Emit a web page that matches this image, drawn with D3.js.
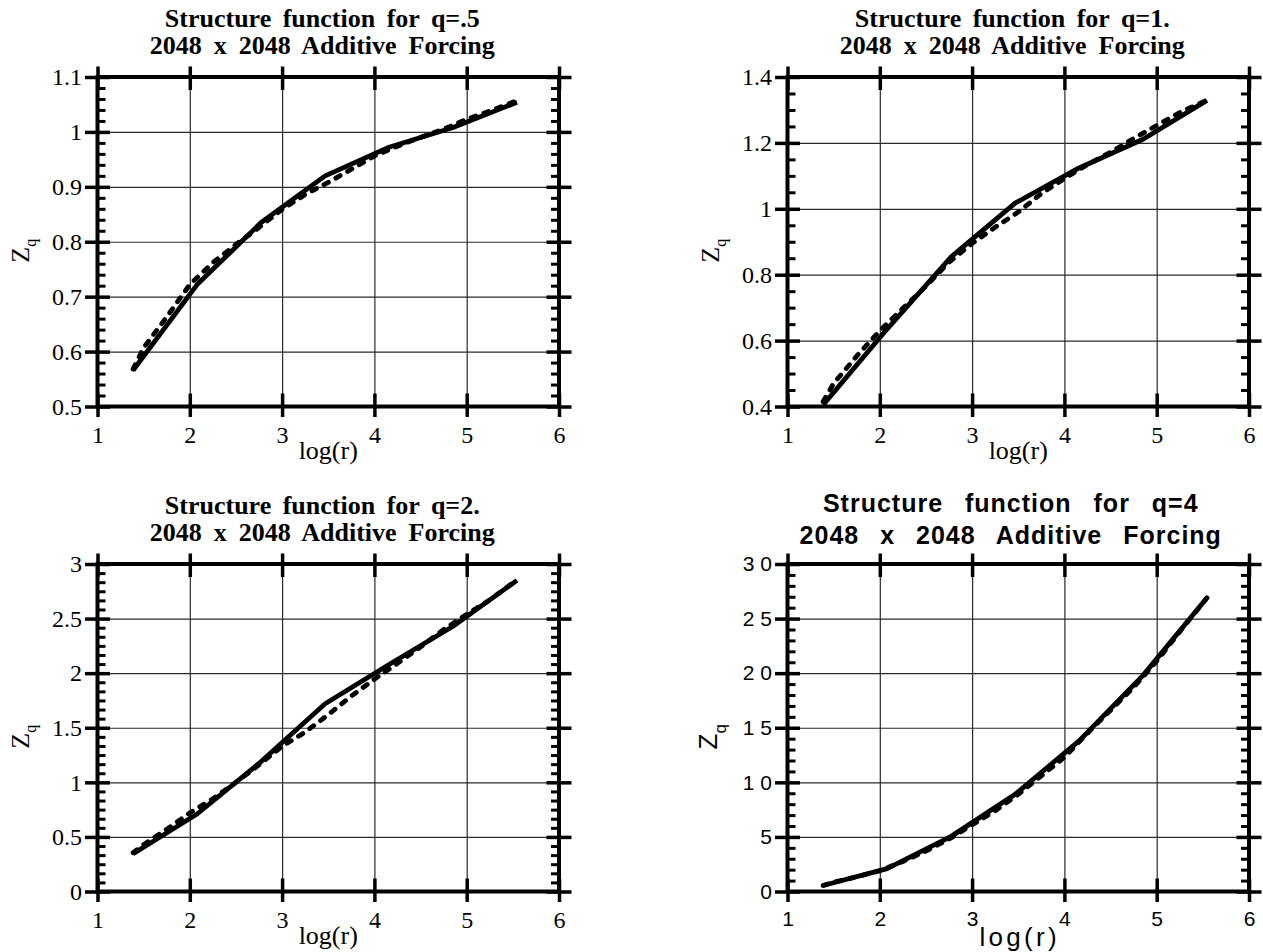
<!DOCTYPE html>
<html><head><meta charset="utf-8">
<script src="https://cdn.jsdelivr.net/npm/d3@7"></script>
<style>body{margin:0;background:#fff} svg{display:block}</style>
</head><body><svg id="c" width="1263" height="952"></svg>
<script>
// ---------------- data ----------------
const xTickValues = [1, 2, 3, 4, 5, 6];
const xTickLabels = ["1", "2", "3", "4", "5", "6"];
// log(r) for r = 4, 8, 16, ..., 256 (solid curve points)
const logRCoarse = [1.386, 2.079, 2.773, 3.466, 4.159, 4.852, 5.545];
// dashed curve sample points
const logRFine = [1.386, 1.5, 1.75, 2.0, 2.25, 2.5, 2.75, 3.0, 3.25, 3.5, 3.75, 4.0, 4.25, 4.5, 4.75, 5.0, 5.25, 5.545];

const zSolidQ05 = [0.566, 0.722, 0.835, 0.920, 0.972, 1.008, 1.054];
const zDashQ05  = [0.568, 0.607, 0.663, 0.722, 0.762, 0.795, 0.826, 0.859, 0.886, 0.908, 0.932, 0.956, 0.974, 0.990, 1.005, 1.023, 1.038, 1.057];

const zSolidQ1 = [0.405, 0.635, 0.854, 1.017, 1.124, 1.211, 1.329];
const zDashQ1  = [0.415, 0.470, 0.553, 0.630, 0.698, 0.765, 0.838, 0.895, 0.944, 0.990, 1.046, 1.092, 1.134, 1.172, 1.213, 1.253, 1.292, 1.330];

const zSolidQ2 = [0.346, 0.710, 1.190, 1.720, 2.080, 2.430, 2.850];
const zDashQ2  = [0.355, 0.430, 0.570, 0.720, 0.850, 1.000, 1.160, 1.330, 1.460, 1.620, 1.790, 1.945, 2.090, 2.240, 2.400, 2.540, 2.670, 2.856];

const zSolidQ4 = [0.55, 2.10, 5.05, 8.90, 13.80, 19.80, 26.90];
const zDashQ4  = [0.55, 0.85, 1.35, 1.90, 2.75, 3.70, 4.80, 6.10, 7.40, 8.90, 10.60, 12.30, 14.50, 16.60, 18.70, 21.10, 23.80, 26.90];

const yTicksQ05 = [0.5, 0.6, 0.7, 0.8, 0.9, 1.0, 1.1];
const yLabelsQ05 = ["0.5", "0.6", "0.7", "0.8", "0.9", "1", "1.1"];
const yTicksQ1 = [0.4, 0.6, 0.8, 1.0, 1.2, 1.4];
const yLabelsQ1 = ["0.4", "0.6", "0.8", "1", "1.2", "1.4"];
const yTicksQ2 = [0, 0.5, 1, 1.5, 2, 2.5, 3];
const yLabelsQ2 = ["0", "0.5", "1", "1.5", "2", "2.5", "3"];
const yTicksQ4 = [0, 5, 10, 15, 20, 25, 30];
const yLabelsQ4 = ["0", "5", "10", "15", "20", "25", "30"];
const minorIntervals = [5, 4, 6, 5];

const titleLine1 = ["Structure function for q=.5", "Structure function for q=1.", "Structure function for q=2.", "Structure function for q=4"];
const titleLine2 = "2048 x 2048 Additive Forcing";
const xAxisTitle = "log(r)";
const yAxisTitle = ["Z", "q"];

// ---------------- layout ----------------
const serifFont = "'Liberation Serif','Times New Roman',Times,serif";
const sansFont = "'Liberation Sans',Arial,Helvetica,sans-serif";
const layout = [
  {x0: 97.5, x1: 559, y0: 77, y1: 406.5, sans: false},
  {x0: 787.5, x1: 1249, y0: 77, y1: 406.5, sans: false},
  {x0: 97.5, x1: 559, y0: 564, y1: 891.5, sans: false},
  {x0: 787.5, x1: 1249, y0: 564, y1: 891.5, sans: true}
];
const panels = [
  {solid: zSolidQ05, dash: zDashQ05, ticks: yTicksQ05, labels: yLabelsQ05},
  {solid: zSolidQ1, dash: zDashQ1, ticks: yTicksQ1, labels: yLabelsQ1},
  {solid: zSolidQ2, dash: zDashQ2, ticks: yTicksQ2, labels: yLabelsQ2},
  {solid: zSolidQ4, dash: zDashQ4, ticks: yTicksQ4, labels: yLabelsQ4}
];

const svg = d3.select('#c');

function tickAxis(g, gen, tx, ty, values, size, sw, fmt, pad) {
  const a = g.append('g').attr('transform', `translate(${tx},${ty})`)
    .call(gen.tickValues(values).tickSize(size).tickPadding(pad == null ? 3 : pad).tickFormat(fmt || (() => '')));
  a.select('.domain').remove();
  a.selectAll('line').attr('stroke', '#000').attr('stroke-width', sw);
  a.attr('font-family', null).attr('font-size', null);
  return a;
}

panels.forEach((p, i) => {
  const L = layout[i];
  const ff = L.sans ? sansFont : serifFont;
  const x = d3.scaleLinear().domain([xTickValues[0], xTickValues[xTickValues.length - 1]]).range([L.x0, L.x1]);
  const y = d3.scaleLinear().domain([p.ticks[0], p.ticks[p.ticks.length - 1]]).range([L.y1, L.y0]);
  const g = svg.append('g').attr('font-family', ff).attr('fill', '#000');
  const W = L.x1 - L.x0, H = L.y1 - L.y0;

  // grid
  const gx = g.append('g').attr('transform', `translate(0,${L.y1})`)
    .call(d3.axisBottom(x).tickValues(xTickValues.slice(1, -1)).tickSize(-H).tickFormat(''));
  gx.select('.domain').remove();
  gx.selectAll('line').attr('stroke', '#2a2a2a').attr('stroke-width', 1.2);
  const gy = g.append('g').attr('transform', `translate(${L.x0},0)`)
    .call(d3.axisLeft(y).tickValues(p.ticks.slice(1, -1)).tickSize(-W).tickFormat(''));
  gy.select('.domain').remove();
  gy.selectAll('line').attr('stroke', '#2a2a2a').attr('stroke-width', 1.2);

  // data
  const line = d3.line().x(d => x(d[0])).y(d => y(d[1]));
  g.append('path').datum(d3.zip(logRFine, p.dash)).attr('d', line)
    .attr('fill', 'none').attr('stroke', '#000').attr('stroke-width', 4.8)
    .attr('stroke-dasharray', '5,8.5').attr('stroke-linecap', 'round').attr('stroke-linejoin', 'round');
  g.append('path').datum(d3.zip(logRCoarse, p.solid)).attr('d', line)
    .attr('fill', 'none').attr('stroke', '#000').attr('stroke-width', 4.8)
    .attr('stroke-linejoin', 'round').attr('stroke-linecap', 'butt');

  // frame
  g.append('rect').attr('x', L.x0).attr('y', L.y0).attr('width', W).attr('height', H)
    .attr('fill', 'none').attr('stroke', '#000').attr('stroke-width', 4);

  // minor ticks
  const minor = [];
  const n = minorIntervals[i];
  for (let k = 0; k < p.ticks.length - 1; k++) {
    const a = p.ticks[k], b = p.ticks[k + 1];
    for (let j = 1; j < n; j++) minor.push(a + j * (b - a) / n);
  }
  tickAxis(g, d3.axisRight(y), L.x0, 0, minor, 8, 3);
  tickAxis(g, d3.axisLeft(y), L.x1, 0, minor, 8, 3);

  // y major ticks (crossing) + labels
  const yl = tickAxis(g, d3.axisLeft(y), L.x0, 0, p.ticks, 12.5, 3.5, (d, k) => p.labels[k], 3);
  tickAxis(g, d3.axisRight(y), L.x0, 0, p.ticks, 12.5, 3.5);
  tickAxis(g, d3.axisLeft(y), L.x1, 0, p.ticks, 12.5, 3.5);
  tickAxis(g, d3.axisRight(y), L.x1, 0, p.ticks, 12.5, 3.5);
  yl.selectAll('text').attr('fill', '#000').attr('font-size', L.sans ? 21 : 24);
  if (L.sans) yl.selectAll('text').style('letter-spacing', '6px').attr('dx', 6);

  // x major ticks (crossing) + labels
  const xl = tickAxis(g, d3.axisBottom(x), 0, L.y1, xTickValues, 10.5, 3.5, (d, k) => xTickLabels[k], L.sans ? 9.5 : 8.5);
  tickAxis(g, d3.axisTop(x), 0, L.y1, xTickValues, 13, 3.5);
  tickAxis(g, d3.axisTop(x), 0, L.y0, xTickValues, 10.5, 3.5);
  tickAxis(g, d3.axisBottom(x), 0, L.y0, xTickValues, 13, 3.5);
  xl.selectAll('text').attr('fill', '#000').attr('font-size', L.sans ? 21 : 24);

  // titles
  const cx = (L.x0 + L.x1) / 2;
  if (L.sans) {
    g.append('text').attr('x', cx - 7.5).attr('y', L.y0 - 52).attr('text-anchor', 'middle')
      .attr('font-weight', 'bold').attr('font-size', 25).style('word-spacing', '14px').style('letter-spacing', '1px')
      .text(titleLine1[i]);
    g.append('text').attr('x', cx - 7.5).attr('y', L.y0 - 20).attr('text-anchor', 'middle')
      .attr('font-weight', 'bold').attr('font-size', 25).style('word-spacing', '13px').style('letter-spacing', '1px')
      .text(titleLine2);
    g.append('text').attr('x', cx + 1.5).attr('y', L.y1 + 54).attr('text-anchor', 'middle')
      .attr('font-size', 26).style('letter-spacing', '3.3px').text(xAxisTitle);
  } else {
    g.append('text').attr('x', cx - 6).attr('y', L.y0 - 50).attr('text-anchor', 'middle')
      .attr('font-weight', 'bold').attr('font-size', 26).style('word-spacing', '5px')
      .text(titleLine1[i]);
    g.append('text').attr('x', cx - 6).attr('y', L.y0 - 23).attr('text-anchor', 'middle')
      .attr('font-weight', 'bold').attr('font-size', 26).style('word-spacing', '5.5px')
      .text(titleLine2);
    g.append('text').attr('x', cx).attr('y', L.y1 + 52).attr('text-anchor', 'middle')
      .attr('font-size', 26).text(xAxisTitle);
  }

  // y axis title Z_q (rotated)
  const yc = (L.y0 + L.y1) / 2 + 9;
  const zx = L.x0 - (L.sans ? 70.5 : 69);
  const zt = g.append('text').attr('transform', `translate(${zx},${yc}) rotate(-90)`)
    .attr('text-anchor', 'middle');
  zt.append('tspan').attr('font-size', 26).text(yAxisTitle[0]);
  zt.append('tspan').attr('font-size', L.sans ? 17 : 16).attr('dy', L.sans ? 9 : 7).text(yAxisTitle[1]);
});
</script>
</body></html>
